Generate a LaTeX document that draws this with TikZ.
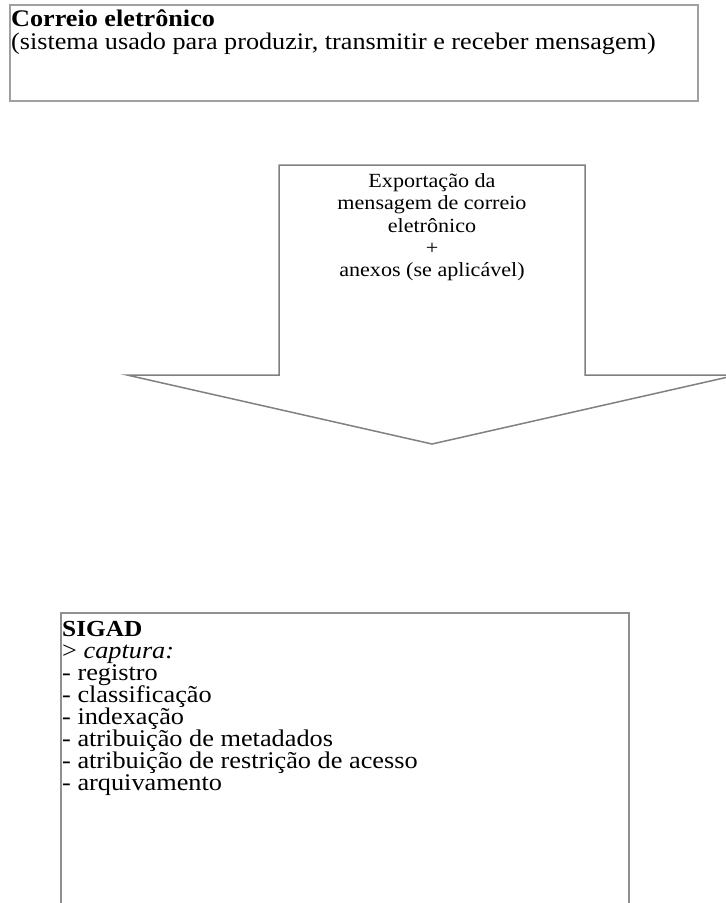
\documentclass[tikz,border=0pt]{standalone}
\usepackage{fontspec}
\setmainfont{Liberation Serif}[FakeStretch=1.1]
\usetikzlibrary{positioning}
\definecolor{arrowgray}{RGB}{128,128,128}
\definecolor{topgray}{RGB}{160,160,160}
\definecolor{sigadgray}{RGB}{144,144,144}

\begin{document}
\begin{tikzpicture}[x=1pt, y=-1pt,
		boxline/.style={line width=1.5pt},
		listtext/.style={inner sep=0pt, align=left, font=\fontsize{23.9}{22}\selectfont}]
				\useasboundingbox (0,0) rectangle (726,903);
				\clip (0,0) rectangle (726,903);
				
				\draw[boxline, draw=topgray] (10,5) rectangle (698,101);
				\node[listtext, anchor=north west, font=\fontsize{23.8}{23}\selectfont] (correio) at (11,9.5)
					{\textbf{Correio eletrônico}\\(sistema usado para produzir, transmitir e receber mensagem)};
				
				\draw[boxline, draw=arrowgray, line join=miter] (279,165) -- (585,165) -- (585,375) -- (737,375)
					-- (432,444) -- (127,375) -- (279,375) -- cycle;
				\node[listtext, align=center, anchor=north, font=\fontsize{20.1}{22.2}\selectfont] (exportacao) at (432,173.5)
					{Exportação da\\mensagem de correio\\eletrônico\\+\\anexos (se aplicável)};
				
				\draw[boxline, draw=sigadgray] (61,903) -- (61,613) -- (629,613) -- (629,903);
				\node[listtext, anchor=north west] (sigad) at (62,621)
					{{\fontsize{23}{22}\selectfont\textbf{SIGAD}}\\
					> \textit{captura:}\\
					- registro\\
					- classificação\\
					- indexação\\
					- atribuição de metadados\\
					- atribuição de restrição de acesso\\
					- arquivamento};
			\end{tikzpicture}
\end{document}
